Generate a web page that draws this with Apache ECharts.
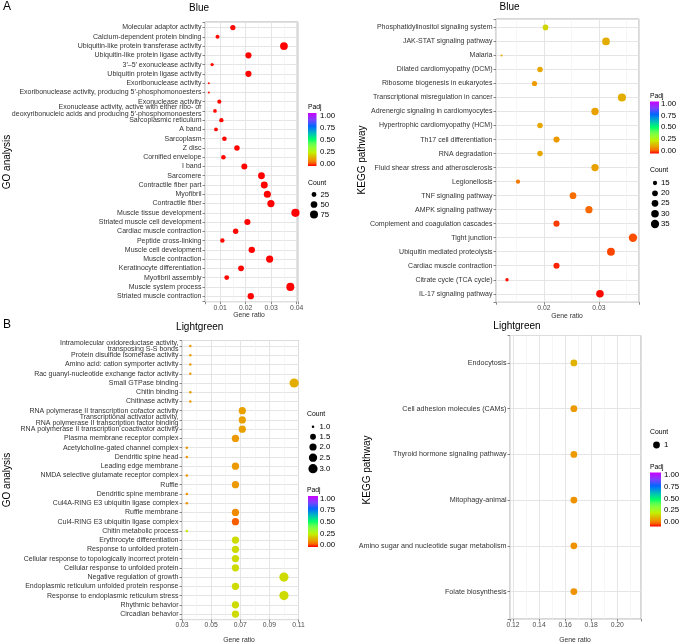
<!DOCTYPE html>
<html><head><meta charset="utf-8">
<script src="https://cdn.jsdelivr.net/npm/echarts@6/dist/echarts.min.js"></script>
<style>html,body{margin:0;padding:0;background:#fff}#c{width:680px;height:643px}</style>
</head><body><div id="c"></div>
<script>
// ---------------- DATA ----------------
const goBlueTerms = [
  'Molecular adaptor activity',
  'Calcium-dependent protein binding',
  'Ubiquitin-like protein transferase activity',
  'Ubiquitin-like protein ligase activity',
  '3′–5′ exonuclease activity',
  'Ubiquitin protein ligase activity',
  'Exoribonuclease activity',
  'Exoribonuclease activity, producing 5′-phosphomonoesters',
  'Exonuclease activity',
  'Exonuclease activity, active with either ribo- or\ndeoxyribonucleic acids and producing 5′-phosphomonoesters',
  'Sarcoplasmic reticulum',
  'A band',
  'Sarcoplasm',
  'Z disc',
  'Cornified envelope',
  'I band',
  'Sarcomere',
  'Contractile fiber part',
  'Myofibril',
  'Contractile fiber',
  'Muscle tissue development',
  'Striated muscle cell development',
  'Cardiac muscle contraction',
  'Peptide cross-linking',
  'Muscle cell development',
  'Muscle contraction',
  'Keratinocyte differentiation',
  'Myofibril assembly',
  'Muscle system process',
  'Striated muscle contraction'
];
const goBlueRatio = [0.0150,0.0090,0.0350,0.0211,0.0069,0.0211,0.0056,0.0056,0.0097,0.0080,
  0.0105,0.0084,0.0117,0.0166,0.0113,0.0195,0.0262,0.0273,0.0285,0.0299,
  0.0395,0.0207,0.0161,0.0109,0.0224,0.0294,0.0182,0.0126,0.0375,0.0220];
const goBlueCount = [30,18,70,42,14,42,11,11,19,16,21,17,23,33,23,39,52,55,57,60,79,41,32,22,45,59,36,25,75,44];
const goBluePadj = [0.004,0.006,0.001,0.002,0.008,0.002,0.009,0.009,0.005,0.007,0.004,0.006,0.003,0.002,0.004,
  0.001,0.001,0.001,0.001,0.001,0.001,0.002,0.003,0.005,0.001,0.001,0.003,0.004,0.001,0.001];

const keggBlueTerms = [
  'Phosphatidylinositol signaling system',
  'JAK-STAT signaling pathway',
  'Malaria',
  'Dilated cardiomyopathy (DCM)',
  'Ribosome biogenesis in eukaryotes',
  'Transcriptional misregulation in cancer',
  'Adrenergic signaling in cardiomyocytes',
  'Hypertrophic cardiomyopathy (HCM)',
  'Th17 cell differentiation',
  'RNA degradation',
  'Fluid shear stress and atherosclerosis',
  'Legionellosis',
  'TNF signaling pathway',
  'AMPK signaling pathway',
  'Complement and coagulation cascades',
  'Tight junction',
  'Ubiquitin mediated proteolysis',
  'Cardiac muscle contraction',
  'Citrate cycle (TCA cycle)',
  'IL-17 signaling pathway'
];
const keggBlueRatio = [0.0203,0.0313,0.0123,0.0193,0.0183,0.0342,0.0293,0.0193,0.0223,0.0193,
  0.0293,0.0153,0.0253,0.0282,0.0223,0.0362,0.0322,0.0223,0.0133,0.0302];
const keggBlueCount = [20,31,12,19,18,34,29,19,22,19,29,15,25,28,22,36,32,22,13,30];
const keggBluePadj = [0.21,0.15,0.14,0.14,0.12,0.15,0.13,0.14,0.12,0.14,0.13,0.08,0.065,0.06,0.035,0.045,0.04,0.02,0.008,0.005];

const goGreenTerms = [
  'Intramolecular oxidoreductase activity,\ntransposing S-S bonds',
  'Protein disulfide isomerase activity',
  'Amino acid: cation symporter activity',
  'Rac guanyl-nucleotide exchange factor activity',
  'Small GTPase binding',
  'Chitin binding',
  'Chitinase activity',
  'RNA polymerase II transcription cofactor activity',
  'Transcriptional activator activity,\nRNA polymerase II transcription factor binding',
  'RNA polymerase II transcription coactivator activity',
  'Plasma membrane receptor complex',
  'Acetylcholine-gated channel complex',
  'Dendritic spine head',
  'Leading edge membrane',
  'NMDA selective glutamate receptor complex',
  'Ruffle',
  'Dendritic spine membrane',
  'Cul4A-RING E3 ubiquitin ligase complex',
  'Ruffle membrane',
  'Cul4-RING E3 ubiquitin ligase complex',
  'Chitin metabolic process',
  'Erythrocyte differentiation',
  'Response to unfolded protein',
  'Cellular response to topologically incorrect protein',
  'Cellular response to unfolded protein',
  'Negative regulation of growth',
  'Endoplasmic reticulum unfolded protein response',
  'Response to endoplasmic reticulum stress',
  'Rhythmic behavior',
  'Circadian behavior'
];
const goGreenRatio = [0.0357,0.0357,0.0357,0.0357,0.107,0.0357,0.0357,0.0714,0.0714,0.0714,
  0.0667,0.0333,0.0333,0.0667,0.0333,0.0667,0.0333,0.0333,0.0667,0.0667,
  0.0333,0.0667,0.0667,0.0667,0.0667,0.100,0.0667,0.100,0.0667,0.0667];
const goGreenCount = [1,1,1,1,3,1,1,2,2,2,2,1,1,2,1,2,1,1,2,2,1,2,2,2,2,3,2,3,2,2];
const goGreenPadj = [0.12,0.12,0.12,0.12,0.15,0.12,0.12,0.13,0.13,0.13,0.12,0.11,0.11,0.12,0.11,0.12,0.11,0.11,0.10,0.055,
  0.24,0.22,0.22,0.22,0.22,0.22,0.22,0.22,0.22,0.22];

const keggGreenTerms = ['Endocytosis','Cell adhesion molecules (CAMs)','Thyroid hormone signaling pathway',
  'Mitophagy-animal','Amino sugar and nucleotide sugar metabolism','Folate biosynthesis'];
const keggGreenRatio = [0.1667,0.1667,0.1667,0.1667,0.1667,0.1667];
const keggGreenCount = [1,1,1,1,1,1];
const keggGreenPadj = [0.16,0.12,0.12,0.11,0.11,0.11];

// legend breaks / tick labels
const padjLabels = ['1.00','0.75','0.50','0.25','0.00'];
const countBreaksTL = [25,50,75];
const countBreaksTR = [15,20,25,30,35];
const countBreaksBL = [1.0,1.5,2.0,2.5,3.0];
const countLabelsBL = ['1.0','1.5','2.0','2.5','3.0'];
const countBreaksBR = [1];

// colour scale (rainbow, Lab-like interpolation), evenly spaced 0..1
const padjColors = ['#FF0000','#F86C00','#EB9E00','#D6C400','#C4F000','#A0FA25','#80FF40','#4DFF55','#00FF66',
  '#00DC95','#00B8C0','#0090E0','#0066FF','#4055FF','#8040FF','#A620FF','#CC00FF'];

// ---------------- LAYOUT ----------------
const FONT = 'Liberation Sans, Arial, Helvetica, sans-serif';
function sizeFn(cmin, cmax, dmin, dmax, dfix) {
  return c => (cmax === cmin) ? dfix : dmin + (dmax - dmin) * Math.sqrt((c - cmin) / (cmax - cmin));
}
const panels = [
  { terms: goBlueTerms, ratio: goBlueRatio, count: goBlueCount, padj: goBluePadj,
    grid: {left: 205, top: 22, width: 93, height: 279.7},
    x: {min: 0.0041, max: 0.0405, splitNumber: 3},
    size: sizeFn(11, 79, 2.0, 8.2, 6) },
  { terms: keggBlueTerms, ratio: keggBlueRatio, count: keggBlueCount, padj: keggBluePadj,
    grid: {left: 496, top: 19, width: 143, height: 283.2},
    x: {min: 0.0113, max: 0.0373, splitNumber: 3},
    size: sizeFn(12, 36, 2.0, 8.4, 6) },
  { terms: goGreenTerms, ratio: goGreenRatio, count: goGreenCount, padj: goGreenPadj,
    grid: {left: 182, top: 340.5, width: 116.5, height: 279.1},
    x: {min: 0.03, max: 0.11, interval: 0.02},
    size: sizeFn(1, 3, 2.5, 9.2, 6) },
  { terms: keggGreenTerms, ratio: keggGreenRatio, count: keggGreenCount, padj: keggGreenPadj,
    grid: {left: 510, top: 335.5, width: 131, height: 283.5},
    x: {min: 0.1177, max: 0.2182, splitNumber: 5},
    size: sizeFn(1, 1, 1.6, 8, 6.8), labelSize: 7.2 }
];

const grids = panels.map(p => Object.assign({show: true, borderColor: '#999', borderWidth: 0.8,
  backgroundColor: '#fff', containLabel: false, outerBoundsMode: 'none'}, p.grid));

const xAxes = panels.map((p, k) => Object.assign({
  gridIndex: k, type: 'value', position: 'bottom',
  axisLine: {show: false, onZero: false},
  axisTick: {show: true, length: 2.5, lineStyle: {color: '#555', width: 0.7}},
  axisLabel: {fontSize: 6.8, color: '#4d4d4d', margin: 2.5, fontFamily: FONT,
    formatter: v => Math.abs(v * 100 - Math.round(v * 100)) < 1e-6 ? v.toFixed(2) : ''},
  splitLine: {show: true, lineStyle: {color: '#e2e2e2', width: 0.9}},
  minorTick: {show: false, splitNumber: 2},
  minorSplitLine: {show: true, lineStyle: {color: '#f0f0f0', width: 0.6}}
}, p.x));

const yAxes = panels.map((p, k) => {
  const n = p.terms.length;
  return {
    gridIndex: k, type: 'value', inverse: true, min: -0.6, max: n - 0.4, position: 'left',
    minInterval: 1, maxInterval: 1, splitNumber: n,
    axisLine: {show: false, onZero: false},
    axisTick: {show: true, length: 2.5, lineStyle: {color: '#555', width: 0.7}},
    axisLabel: {fontSize: p.labelSize || 7, color: '#333', margin: 3.5, lineHeight: 6.8, fontFamily: FONT,
      formatter: v => { const r = Math.round(v); return (Math.abs(v - r) < 1e-6 && r >= 0 && r < n) ? p.terms[r] : ''; }},
    splitLine: {show: true, lineStyle: {color: '#e2e2e2', width: 0.9}}
  };
});

const series = panels.map((p, k) => ({
  type: 'scatter', xAxisIndex: k, yAxisIndex: k,
  data: p.terms.map((t, i) => [p.ratio[i], i, p.padj[i], p.count[i]]),
  symbol: 'circle',
  symbolSize: d => p.size(d[3]),
  itemStyle: {opacity: 1},
  emphasis: {disabled: true},
  silent: true
}));

// ---------------- GRAPHIC (titles & legends) ----------------
const g = [];
function txt(x, y, s, size, opt) {
  g.push(Object.assign({type: 'text', x: x, y: y, silent: true,
    style: Object.assign({text: s, fontSize: size, fontFamily: FONT, fill: '#000', align: 'center', verticalAlign: 'middle'}, opt || {})}));
}
function vtxt(x, y, s, size) {
  g.push({type: 'text', x: x, y: y, rotation: Math.PI / 2, silent: true,
    style: {text: s, fontSize: size, fontFamily: FONT, fill: '#000', align: 'center', verticalAlign: 'middle'}});
}
txt(3, 7, 'A', 12, {align: 'left'});
txt(3, 325, 'B', 12, {align: 'left'});
txt(199, 8.5, 'Blue', 10);
txt(509.5, 7.5, 'Blue', 10);
txt(199.7, 327.5, 'Lightgreen', 10);
txt(517, 326.5, 'Lightgreen', 10);
vtxt(7.5, 162, 'GO analysis', 10);
vtxt(7.5, 480, 'GO analysis', 10);
vtxt(362, 160, 'KEGG pathway', 10);
vtxt(367, 470, 'KEGG pathway', 10);
txt(249, 315, 'Gene ratio', 6.8, {fill: '#333'});
txt(567, 316.5, 'Gene ratio', 6.8, {fill: '#333'});
txt(239, 640, 'Gene ratio', 6.8, {fill: '#333'});
txt(575, 640.5, 'Gene ratio', 6.8, {fill: '#333'});

const stops = padjColors.map((c, i) => ({offset: i / (padjColors.length - 1), color: c}));
function colorbar(tx, ty, bx, by, bw, bh, yTop, yBot, lx) {
  txt(tx, ty, 'Padj', 6.8, {align: 'left'});
  g.push({type: 'rect', silent: true, shape: {x: bx, y: by, width: bw, height: bh},
    style: {fill: new echarts.graphic.LinearGradient(0, 1, 0, 0, stops)}});
  padjLabels.forEach((l, i) => txt(lx, yTop + (yBot - yTop) * i / 4, l, 7.8, {align: 'left'}));
}
function countLegend(tx, ty, cx, ys, breaks, labels, fn, lx) {
  txt(tx, ty, 'Count', 6.8, {align: 'left'});
  breaks.forEach((b, i) => {
    g.push({type: 'circle', silent: true, shape: {cx: cx, cy: ys[i], r: fn(b) / 2}, style: {fill: '#000'}});
    txt(lx, ys[i], labels[i], 7.8, {align: 'left'});
  });
}
colorbar(308, 107.5, 308, 113, 8.5, 53, 116, 164, 320);
countLegend(308, 183, 314, [194.5, 204.5, 214.5], countBreaksTL, countBreaksTL.map(String), panels[0].size, 320.5);
colorbar(650, 95.7, 650, 101.5, 9, 52, 104, 150.5, 661);
countLegend(650, 170, 655, [183, 193.3, 203.3, 213.7, 224], countBreaksTR, countBreaksTR.map(String), panels[1].size, 661);
countLegend(307, 414.3, 313, [426.7, 436.7, 447, 457.7, 468.7], countBreaksBL, countLabelsBL, panels[2].size, 319.5);
colorbar(307, 490, 308, 496, 10, 51, 498.7, 545, 320);
countLegend(650, 431.7, 656.5, [445], countBreaksBR, countBreaksBR.map(String), panels[3].size, 664);
colorbar(650, 466.7, 650, 472.5, 11, 54, 475, 522, 664);

const chart = echarts.init(document.getElementById('c'), null, {renderer: 'canvas'});
chart.setOption({
  animation: false,
  backgroundColor: '#fff',
  grid: grids,
  xAxis: xAxes,
  yAxis: yAxes,
  visualMap: {type: 'continuous', show: false, min: 0, max: 1, dimension: 2,
    seriesIndex: [0, 1, 2, 3], inRange: {color: padjColors}},
  series: series,
  graphic: g
});
</script></body></html>
